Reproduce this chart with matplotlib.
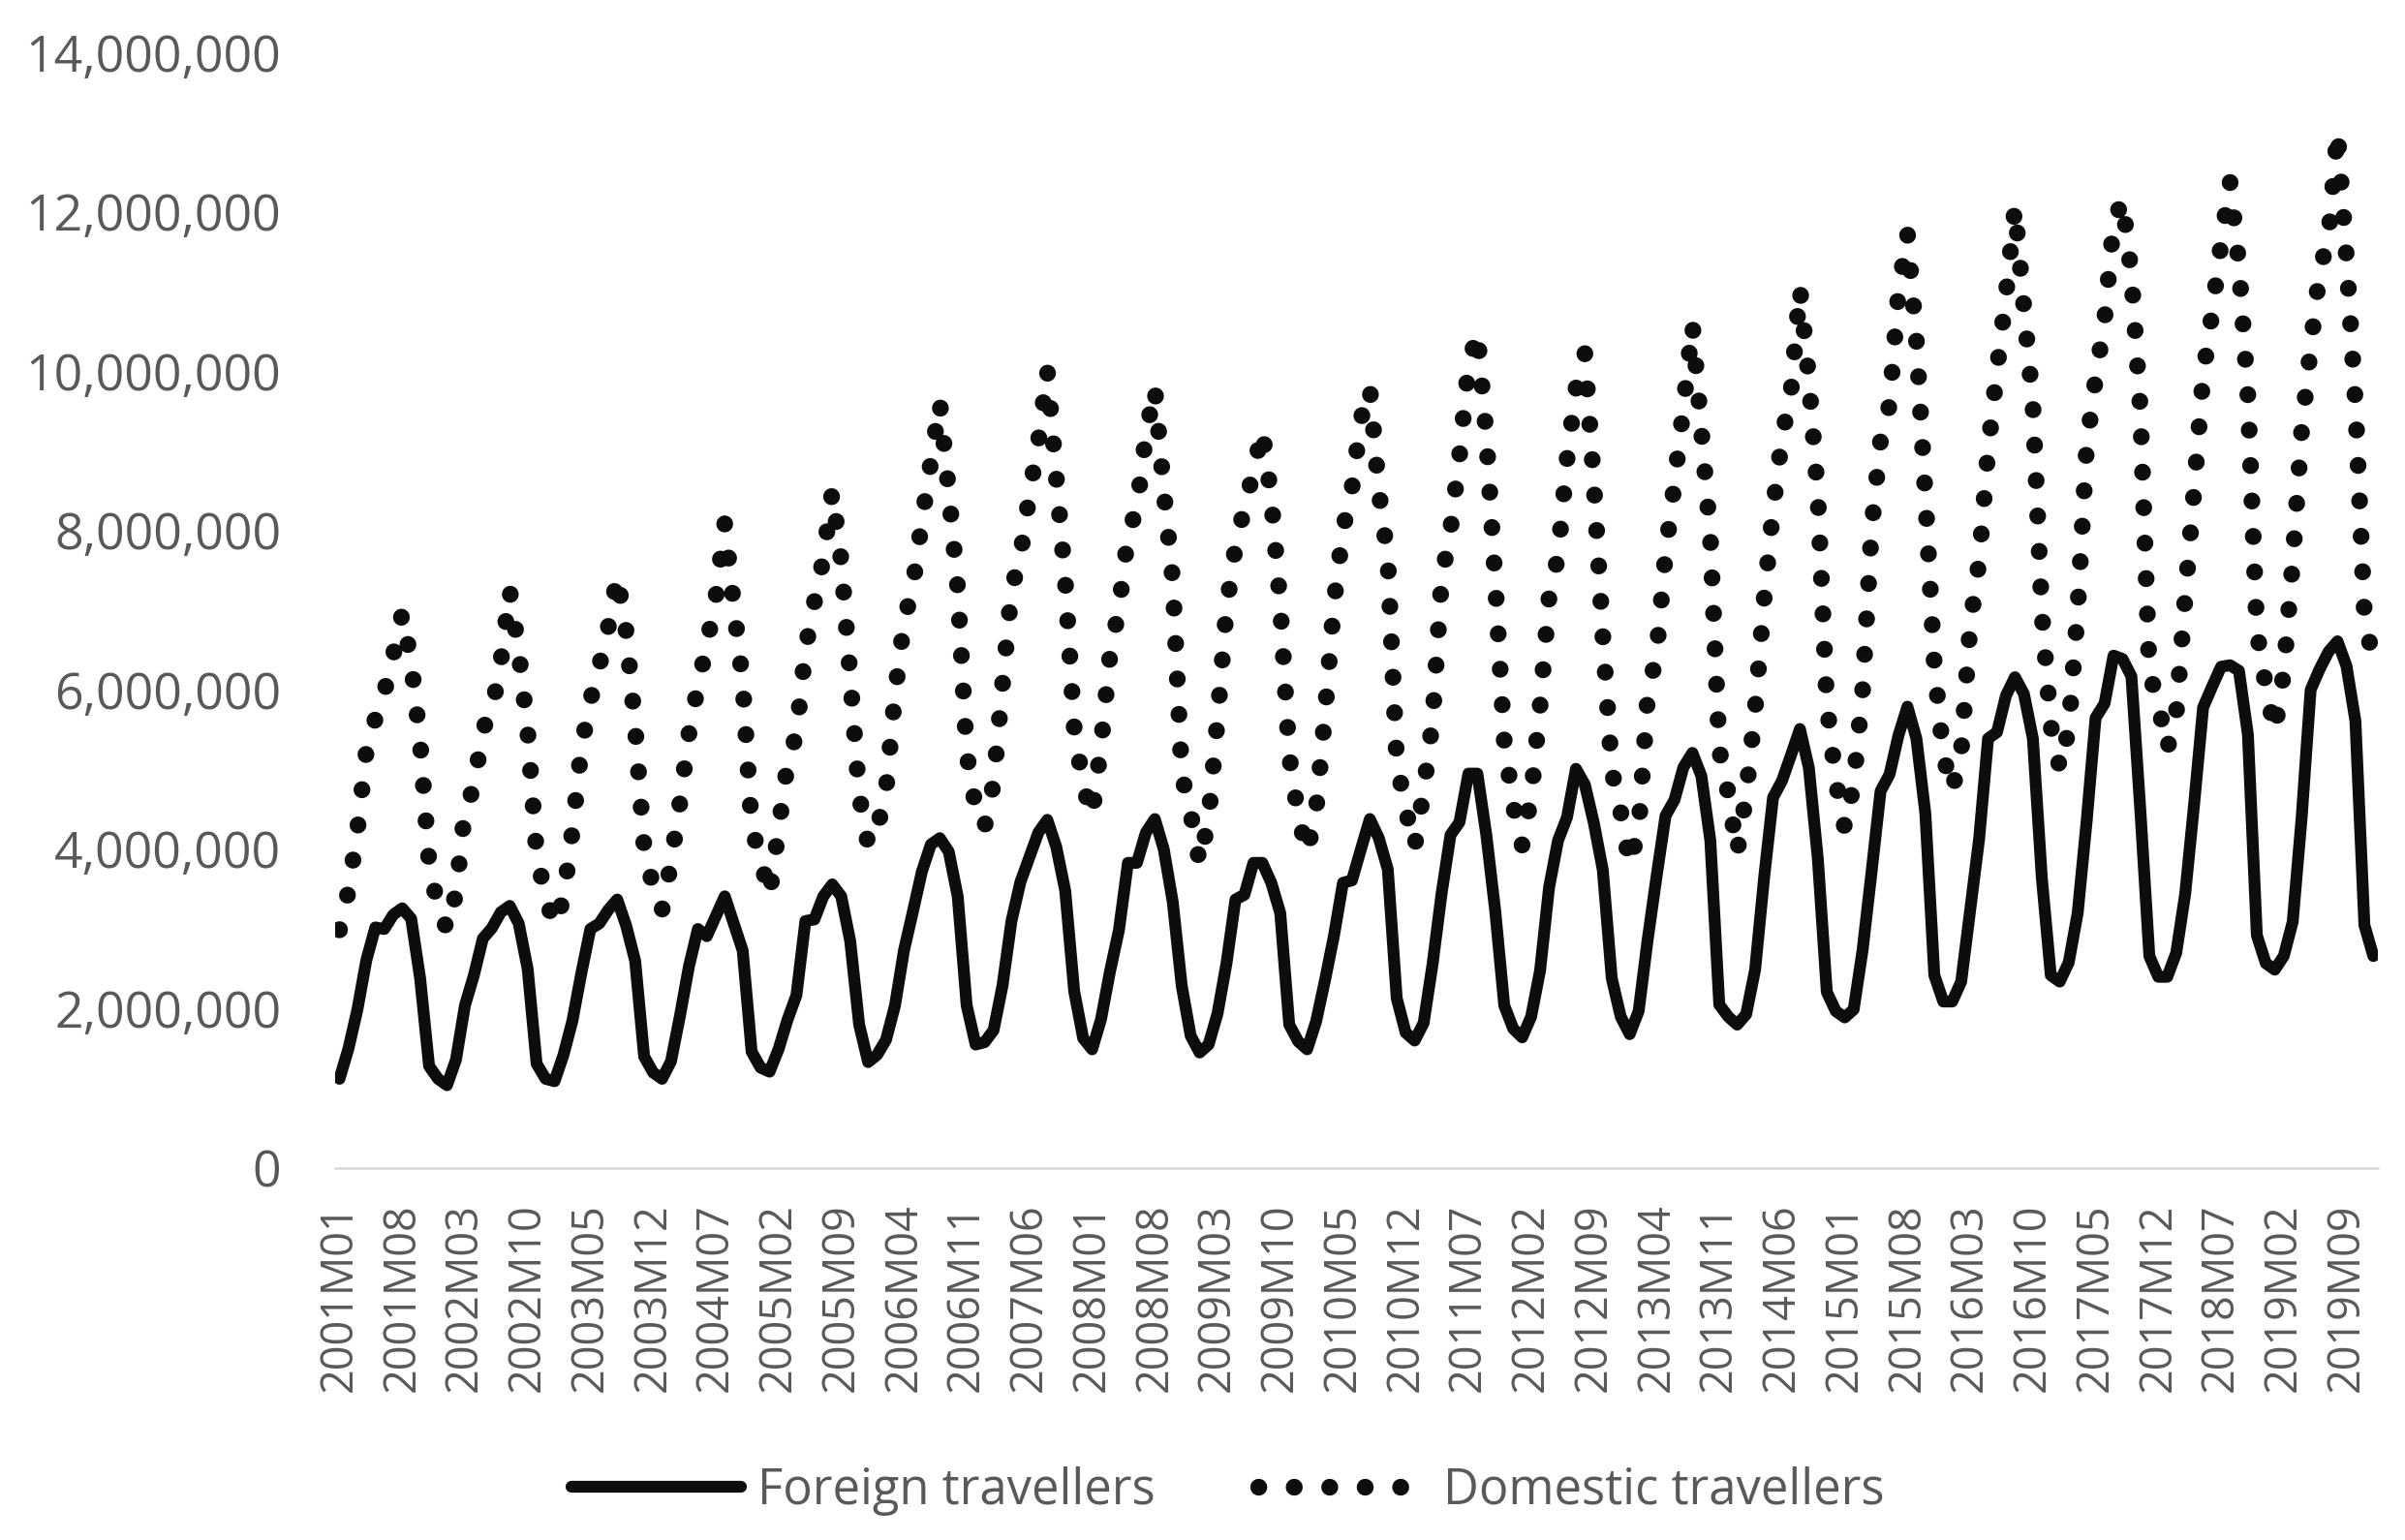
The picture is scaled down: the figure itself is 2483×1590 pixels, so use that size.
import numpy as np
import matplotlib
matplotlib.use("Agg")
import matplotlib.pyplot as plt
from matplotlib.ticker import FuncFormatter

plt.rcParams['font.family'] = ['Open Sans', 'DejaVu Sans']

# Etiquetas de meses (2001M01 ... 2019M12)
anios = list(range(2001, 2020))
meses = [f"{a}M{m:02d}" for a in anios for m in range(1, 13)]

# Viajeros extranjeros, en millones (un renglón por año)
extranjeros_mill = [
    1.12, 1.50, 1.99, 2.61, 3.02, 3.00, 3.18, 3.26, 3.13, 2.38, 1.28, 1.12,
    1.04, 1.36, 2.04, 2.42, 2.88, 3.01, 3.21, 3.29, 3.07, 2.50, 1.31, 1.12,
    1.09, 1.42, 1.85, 2.45, 3.00, 3.07, 3.24, 3.37, 3.04, 2.60, 1.40, 1.20,
    1.12, 1.34, 1.91, 2.53, 3.00, 2.91, 3.16, 3.41, 3.07, 2.73, 1.46, 1.26,
    1.21, 1.49, 1.86, 2.17, 3.10, 3.12, 3.41, 3.56, 3.41, 2.85, 1.80, 1.33,
    1.42, 1.61, 2.04, 2.73, 3.22, 3.72, 4.06, 4.14, 3.97, 3.41, 2.04, 1.55,
    1.58, 1.73, 2.29, 3.10, 3.59, 3.90, 4.21, 4.37, 4.03, 3.48, 2.22, 1.63,
    1.49, 1.87, 2.47, 2.99, 3.83, 3.83, 4.21, 4.38, 4.00, 3.34, 2.29, 1.66,
    1.45, 1.55, 1.94, 2.57, 3.37, 3.43, 3.83, 3.83, 3.58, 3.20, 1.80, 1.59,
    1.49, 1.84, 2.36, 2.92, 3.58, 3.61, 4.00, 4.38, 4.14, 3.75, 2.13, 1.70,
    1.60, 1.82, 2.56, 3.44, 4.18, 4.34, 4.95, 4.95, 4.18, 3.22, 2.04, 1.75,
    1.64, 1.90, 2.48, 3.52, 4.11, 4.40, 5.01, 4.81, 4.33, 3.74, 2.38, 1.90,
    1.68, 1.97, 2.86, 3.66, 4.42, 4.62, 5.03, 5.21, 4.92, 4.11, 2.05, 1.90,
    1.80, 1.93, 2.49, 3.64, 4.65, 4.86, 5.18, 5.51, 5.02, 3.88, 2.21, 1.97,
    1.89, 1.99, 2.74, 3.72, 4.73, 4.94, 5.43, 5.79, 5.39, 4.45, 2.42, 2.09,
    2.09, 2.34, 3.23, 4.13, 5.39, 5.47, 5.93, 6.16, 5.95, 5.39, 3.64, 2.42,
    2.34, 2.58, 3.20, 4.35, 5.65, 5.83, 6.43, 6.39, 6.17, 4.48, 2.66, 2.40,
    2.40, 2.70, 3.44, 4.57, 5.78, 6.04, 6.29, 6.31, 6.24, 5.44, 2.92, 2.57,
    2.49, 2.66, 3.09, 4.40, 6.00, 6.26, 6.48, 6.61, 6.30, 5.61, 3.05, 2.66,
]

# Viajeros residentes, en millones
residentes_mill = [
    2.99, 3.48, 4.24, 5.24, 5.64, 5.97, 6.44, 6.96, 6.35, 5.35, 3.83, 3.26,
    3.00, 3.45, 4.50, 4.78, 5.51, 5.73, 6.35, 7.25, 6.49, 5.49, 3.94, 3.40,
    3.05, 3.38, 4.24, 5.28, 5.87, 6.30, 6.79, 7.43, 6.73, 5.54, 4.02, 3.53,
    3.24, 3.83, 4.59, 5.45, 6.05, 6.57, 7.16, 8.09, 7.07, 6.10, 4.28, 3.87,
    3.42, 4.25, 5.08, 5.45, 6.51, 7.10, 7.65, 8.49, 7.62, 6.17, 4.68, 4.06,
    4.25, 4.74, 5.95, 6.85, 7.31, 8.12, 8.86, 9.61, 8.49, 7.28, 5.21, 4.52,
    4.28, 4.83, 6.07, 7.25, 7.69, 8.45, 9.12, 10.01, 8.67, 7.38, 5.53, 4.80,
    4.42, 5.31, 6.44, 7.03, 7.94, 8.29, 9.20, 9.79, 8.50, 7.38, 4.94, 4.45,
    3.83, 4.38, 5.64, 7.03, 7.80, 8.29, 8.74, 9.26, 8.40, 7.07, 5.18, 4.42,
    3.96, 4.49, 5.71, 7.10, 8.01, 8.53, 9.40, 9.79, 8.50, 7.65, 5.10, 4.50,
    4.03, 4.73, 5.62, 7.38, 8.01, 8.93, 10.07, 10.49, 9.19, 7.35, 5.36, 4.55,
    4.05, 4.66, 5.80, 7.16, 7.68, 8.89, 9.78, 10.22, 8.60, 6.68, 4.99, 4.47,
    3.81, 4.25, 5.91, 6.46, 7.71, 8.60, 9.55, 10.59, 9.26, 7.93, 5.25, 4.70,
    3.96, 4.69, 5.75, 7.14, 8.27, 9.17, 9.74, 11.04, 9.90, 8.44, 5.83, 4.86,
    4.27, 4.82, 6.00, 8.03, 9.13, 9.58, 11.00, 11.73, 10.39, 8.44, 6.32, 5.18,
    4.74, 5.22, 6.81, 7.62, 9.01, 10.02, 10.96, 12.06, 10.80, 9.58, 6.97, 5.55,
    5.02, 5.51, 7.00, 9.06, 9.91, 10.64, 11.86, 12.15, 11.21, 9.52, 6.22, 5.83,
    5.26, 5.70, 7.17, 8.52, 9.95, 10.73, 11.60, 12.38, 11.34, 9.69, 6.74, 6.04,
    5.48, 6.22, 7.61, 9.26, 10.30, 11.25, 11.69, 13.01, 11.43, 9.60, 6.96, 6.33,
]

gris_texto = '#595959'
negro = '#0d0d0d'

fig = plt.figure(figsize=(24.83, 15.90), dpi=100)
ax = fig.add_axes([0.1393, 0.2415, 0.8494, 0.7245])

x = np.arange(len(meses))
extranjeros = np.array(extranjeros_mill) * 1e6
residentes = np.array(residentes_mill) * 1e6

ax.plot(x, extranjeros, color=negro, lw=8.8, solid_joinstyle='round',
        solid_capstyle='round', label='Foreign travellers')
# Línea punteada de puntos redondos (estilo "round dot" de Excel)
ax.plot(x, residentes, color=negro, lw=12.5, linestyle=(0, (0.01, 2.1)),
        dash_capstyle='round', label='Domestic travellers')

ax.set_xlim(-0.5, len(meses) - 0.5)
ax.set_ylim(0, 14e6)
ax.set_yticks(np.arange(0, 14e6 + 1, 2e6))
ax.yaxis.set_major_formatter(FuncFormatter(lambda v, p: f"{v:,.0f}"))
ax.set_xticks(x[::7])
ax.set_xticklabels(meses[::7], rotation=90)

ax.tick_params(axis='x', length=0, pad=26, labelsize=32.4, labelcolor=gris_texto)
ax.tick_params(axis='y', length=0, pad=40, labelsize=37.4, labelcolor=gris_texto)

for lado in ['top', 'right', 'left']:
    ax.spines[lado].set_visible(False)
ax.spines['bottom'].set_color('#d9d9d9')
ax.spines['bottom'].set_linewidth(1.8)

leyenda = fig.legend(loc='center', bbox_to_anchor=(0.5107, 0.032), ncol=2,
                     frameon=False, fontsize=36.5, handlelength=3.45,
                     handletextpad=0.33, columnspacing=2.1)
for t in leyenda.get_texts():
    t.set_color(gris_texto)

fig.savefig('out.png', dpi=100)
